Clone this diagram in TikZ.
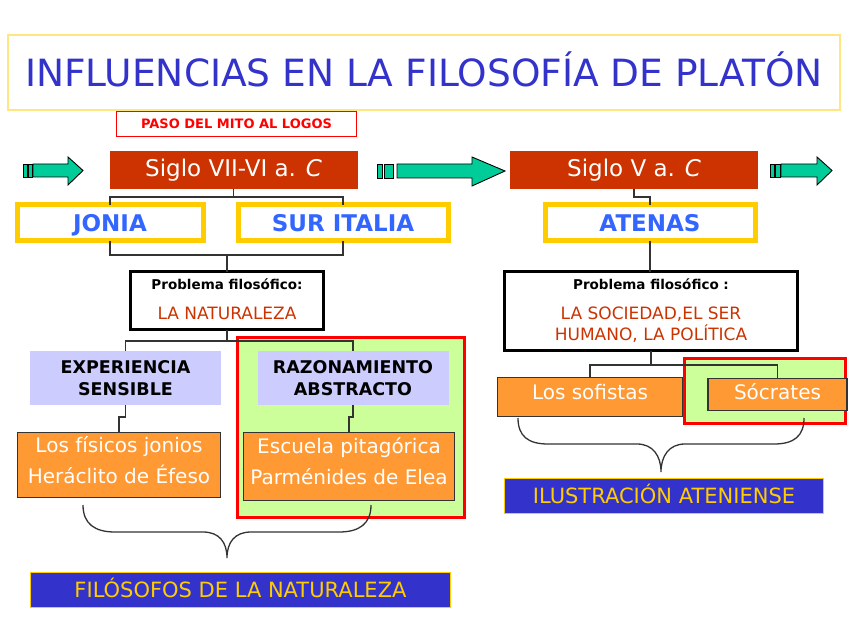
\documentclass[tikz,border=0pt]{standalone}
\usepackage{fontspec}
\setmainfont{DejaVu Sans}
\definecolor{titleblue}{HTML}{3333CC}
\definecolor{titleyel}{HTML}{FFE680}
\definecolor{pasored}{HTML}{FF0000}
\definecolor{siglored}{HTML}{CC3300}
\definecolor{arrowteal}{HTML}{00CC99}
\definecolor{regyel}{HTML}{FFCC00}
\definecolor{regblue}{HTML}{3366FF}
\definecolor{lav}{HTML}{CCCCFF}
\definecolor{lgreen}{HTML}{CCFF99}
\definecolor{orng}{HTML}{FF9933}
\definecolor{navy}{HTML}{3333CC}
\definecolor{conn}{HTML}{333333}
\begin{document}
\begin{tikzpicture}[x=1pt,y=-1pt,
  box/.style={rectangle, inner sep=0pt, outer sep=0pt, align=center, text depth=0pt},
  sigbox/.style={box, fill=siglored, text=white, minimum width=248, minimum height=38, text height=16.8pt, text depth=3pt, font=\fontsize{23}{26}\selectfont},
  regbox/.style={box, draw=regyel, line width=5, fill=white, text=regblue, minimum height=36, text height=16.8pt, font=\fontsize{23}{26}\selectfont\bfseries},
  probbox/.style={box, draw=black, line width=3, fill=white},
  probtit/.style={box, text height=9.9pt, font=\fontsize{13.5}{15}\selectfont\bfseries},
  probtxt/.style={box, text=siglored, text height=12.4pt, font=\fontsize{17}{21}\selectfont},
  lavbox/.style={box, fill=lav, minimum width=191, minimum height=54, text height=34.8pt, font=\fontsize{17.5}{22}\selectfont\bfseries},
  orbox/.style={box, fill=orng, draw=conn, line width=1.2, text=white, text height=14.6pt, text depth=9.5pt, font=\fontsize{20}{31}\selectfont},
  orbox2/.style={orbox, text height=45.6pt},
  grbox/.style={box, fill=lgreen, draw=pasored, line width=3},
  navbox/.style={box, fill=navy, draw=regyel, line width=1, text=regyel, minimum height=35, text height=15.3pt, font=\fontsize{21}{24}\selectfont},
  link/.style={draw=conn, line width=1.3},
  arr/.style={fill=arrowteal, draw=black, line width=0.9},
  brace/.style={draw=conn, line width=1.3}
]
\useasboundingbox (0,0) rectangle (848,636);
\fill[white] (0,0) rectangle (848,636);

% title
\node[box, minimum width=832, minimum height=75, draw=titleyel, line width=2, fill=white, text=titleblue,
  text height=27.4pt, font=\fontsize{37.5}{40}\selectfont] (title) at (424,72.5) {INFLUENCIAS EN LA FILOSOFÍA DE PLATÓN};

\node[box, minimum width=240, minimum height=25, draw=pasored, line width=1, fill=white, text=pasored,
  text height=9.5pt, font=\fontsize{13}{15}\selectfont\bfseries] (paso) at (236.5,124) {PASO DEL MITO AL LOGOS};

% arrows
\filldraw[arr] (23,164) rectangle (27,177);
\filldraw[arr] (28,164) rectangle (32,177);
\filldraw[arr] (33,164) -- (68,164) -- (68,157) -- (83,170.5) -- (68,185) -- (68,177) -- (33,177) -- cycle;

\filldraw[arr] (377,164) rectangle (382,178);
\filldraw[arr] (384,164) rectangle (393,178);
\filldraw[arr] (397,164) -- (472,164) -- (472,157) -- (505,171) -- (472,186) -- (472,178) -- (397,178) -- cycle;

\filldraw[arr] (770,164) rectangle (774,177);
\filldraw[arr] (775,164) rectangle (780,177);
\filldraw[arr] (781,164) -- (817,164) -- (817,157) -- (832,170.5) -- (817,185) -- (817,177) -- (781,177) -- cycle;

% siglo boxes
\node[sigbox] (siglo1) at (233.5,170) {Siglo VII-VI a. \textit{C}};
\node[sigbox] (siglo2) at (634,170) {Siglo V a. \textit{C}};

% regions
\node[regbox, minimum width=186] (jonia) at (110,223) {JONIA};
\node[regbox, minimum width=210] (sur) at (343,223) {SUR ITALIA};
\node[regbox, minimum width=210] (atenas) at (650,223) {ATENAS};

% problem boxes
\node[probbox, minimum width=193, minimum height=58] (prob1) at (227,300.5) {};
\node[probtit] (prob1a) at (227,285) {Problema filosófico:};
\node[probtxt] (prob1b) at (227,313) {LA NATURALEZA};

\node[probbox, minimum width=293, minimum height=79] (prob2) at (651,311) {};
\node[probtit] (prob2a) at (651,285) {Problema filosófico :};
\node[probtxt, text height=33.4pt] (prob2b) at (651,323.5) {LA SOCIEDAD,EL SER\\HUMANO, LA POLÍTICA};

% green highlight boxes
\node[grbox, minimum width=227, minimum height=180] (green1) at (351,427.5) {};
\node[grbox, minimum width=161, minimum height=65] (green2) at (765,391) {};

% lavender boxes
\node[lavbox] (exp) at (125.5,378) {EXPERIENCIA\\SENSIBLE};
\node[lavbox] (raz) at (353,378) {RAZONAMIENTO\\ABSTRACTO};

% orange boxes
\node[orbox2, minimum width=203, minimum height=65] (fis) at (119,465) {Los físicos jonios\\Heráclito de Éfeso};
\node[orbox2, minimum width=211, minimum height=68] (esc) at (349,466.5) {Escuela pitagórica\\Parménides de Elea};
\node[orbox, minimum width=185, minimum height=39] (sof) at (590,397) {Los sofistas};
\node[orbox, minimum width=139, minimum height=32, text depth=5pt] (soc) at (777.5,394.5) {Sócrates};

% navy boxes
\node[navbox, minimum width=420] (filos) at (240.5,589.5) {FILÓSOFOS DE LA NATURALEZA};
\node[navbox, minimum width=319] (ilus) at (664,495.5) {ILUSTRACIÓN ATENIENSE};

% connectors
\draw[link] (siglo1.south) -- (siglo1.south |- 0,197);
\draw[link] (jonia.north) -- (jonia.north |- 0,197) -- (sur.north |- 0,197) -- (sur.north);
\draw[link] (jonia.south) -- (jonia.south |- 0,255) -- (sur.south |- 0,255) -- (sur.south);
\draw[link] (prob1.north |- 0,255) -- (prob1.north);
\draw[link] (prob1.south) -- (prob1.south |- 0,341);
\draw[link] (exp.north) -- (exp.north |- 0,341) -- (raz.north |- 0,341) -- (raz.north);
\draw[link] (exp.south) -- ++(0,12) -| (fis.north);
\draw[link] (raz.south) -- ++(0,12) -| (esc.north);
\draw[link] (siglo2.south) -- ++(0,8) -| (atenas.north);
\draw[link] (atenas.south) -- (atenas.south |- prob2.north);
\draw[link] (prob2.south) -- (prob2.south |- 0,365);
\draw[link] (sof.north) -- (sof.north |- 0,365) -- (soc.north |- 0,365) -- (soc.north);

% braces
\coordinate (b1l) at (83,505);
\coordinate (b1t) at (227,558);
\coordinate (b1r) at (371,505);
\draw[brace] (b1l) .. controls (83,524) and (95,532) .. (115,532) -- (203,532)
  .. controls (219,532) and (227,542) .. (b1t)
  .. controls (227,542) and (235,532) .. (251,532) -- (339,532)
  .. controls (359,532) and (371,524) .. (b1r);
\coordinate (b2l) at (518,418);
\coordinate (b2t) at (661,472);
\coordinate (b2r) at (804,418);
\draw[brace] (b2l) .. controls (518,436) and (528,444) .. (548,444) -- (637,444)
  .. controls (653,444) and (661,456) .. (b2t)
  .. controls (661,456) and (669,444) .. (685,444) -- (774,444)
  .. controls (794,444) and (804,436) .. (b2r);
\end{tikzpicture}
\end{document}
